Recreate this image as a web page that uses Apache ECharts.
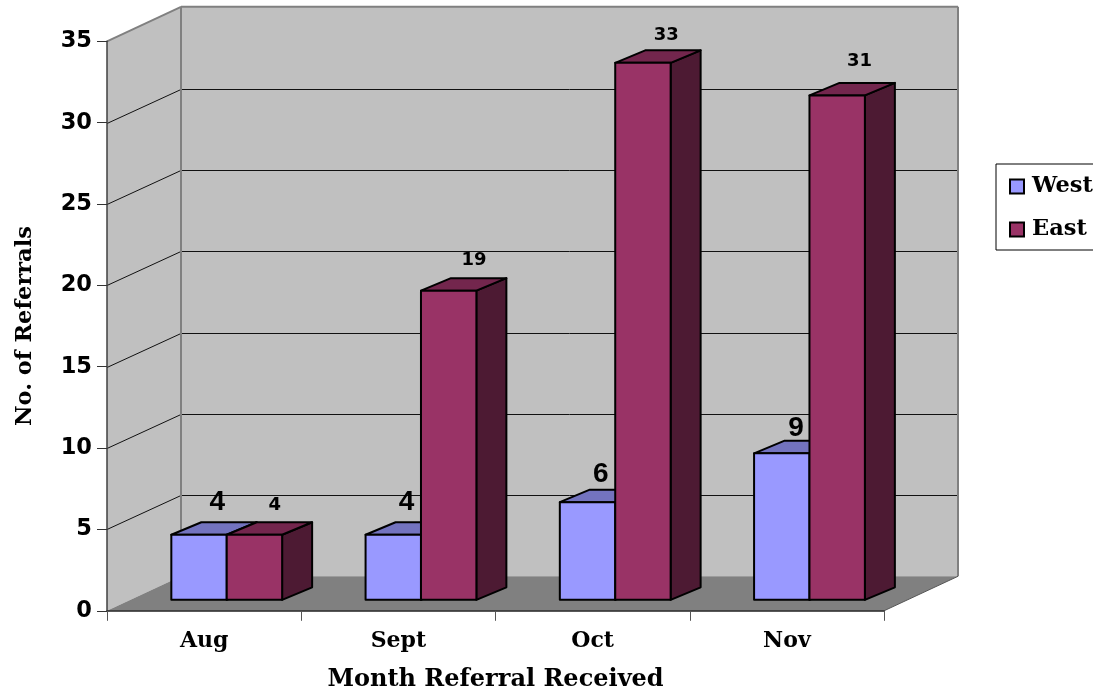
<!DOCTYPE html>
<html>
<head>
<meta charset="utf-8">
<style>html,body{margin:0;padding:0;background:#fff}#chart{width:1093px;height:693px}</style>
<script src="https://cdn.jsdelivr.net/npm/echarts@6/dist/echarts.min.js"></script>
</head>
<body>
<div id="chart"></div>
<script>
// Monthly referrals received by region
const months = ['Aug', 'Sept', 'Oct', 'Nov'];
const west = [4, 4, 6, 9];
const east = [4, 19, 33, 31];
const valueTicks = [5, 10, 15, 20, 25, 30, 35];

// Pixel offsets of the hand-placed value labels, relative to each bar's top-left corner
const westLabelOffset = [[46, -32], [41, -32], [41, -28], [42, -25]];
const eastLabelOffset = [[48, -29], [53, -30], [51, -28], [50, -34]];

// Oblique projection of the chart box
const BOX_DX = 74, BOX_DY = 34.5;      // depth of the walls and floor
const BAR_SHIFT_X = 22.6, BAR_SHIFT_Y = 11; // where the bar row stands on the floor
const BAR_W = 55.4, BAR_DX = 30, BAR_DY = 12.5; // bar face width and bar depth

function poly(points, fill, stroke, lineWidth) {
  return {
    type: 'polygon',
    shape: { points },
    style: { fill, stroke: stroke || 'none', lineWidth: lineWidth || 0, lineJoin: 'round' }
  };
}

function line(a, b, stroke, lineWidth) {
  return {
    type: 'line',
    shape: { x1: a[0], y1: a[1], x2: b[0], y2: b[1] },
    style: { stroke, lineWidth }
  };
}

// Walls, floor and gridlines of the box
function renderBox(params, api) {
  const band = api.size([1, 0])[0];
  const origin = api.coord([0, 0]);
  const left = origin[0] - band / 2;
  const right = left + band * months.length;
  const bottom = origin[1];
  const top = api.coord([0, 35])[1];
  const children = [
    poly([[left, bottom], [left, top], [left + BOX_DX, top - BOX_DY], [left + BOX_DX, bottom - BOX_DY]], '#C0C0C0'),
    poly([[left + BOX_DX, bottom - BOX_DY], [left + BOX_DX, top - BOX_DY], [right + BOX_DX, top - BOX_DY], [right + BOX_DX, bottom - BOX_DY]], '#C0C0C0'),
    poly([[left, bottom], [left + BOX_DX, bottom - BOX_DY], [right + BOX_DX, bottom - BOX_DY], [right, bottom]], '#808080')
  ];
  valueTicks.slice(0, -1).forEach(function (v) {
    const y = Math.round(api.coord([0, v])[1]) + 0.5;
    const by = Math.round(y - BOX_DY) + 0.5;
    children.push(line([left, y], [left + BOX_DX, by], '#111', 1));
    children.push(line([left + BOX_DX, by], [right + BOX_DX, by], '#111', 1));
  });
  children.push(line([left, top], [left + BOX_DX, top - BOX_DY], '#808080', 2));
  children.push(line([left + BOX_DX, top - BOX_DY], [right + BOX_DX, top - BOX_DY], '#808080', 2));
  children.push(line([left + BOX_DX, top - BOX_DY], [left + BOX_DX, bottom - BOX_DY], '#808080', 2));
  children.push(line([right + BOX_DX, top - BOX_DY], [right + BOX_DX, bottom - BOX_DY], '#808080', 2));
  children.push(line([right, bottom], [right + BOX_DX, bottom - BOX_DY], '#555', 1));
  return { type: 'group', children };
}

// One extruded bar: front face, top and right side, plus its value label
function barRenderer(slot, colors, labelFont, labelOffset) {
  return function (params, api) {
    const idx = api.value(0);
    const value = api.value(1);
    const c = api.coord([idx, value]);
    const base = api.coord([idx, 0]);
    const x0 = c[0] + BAR_SHIFT_X + (slot - 1) * BAR_W;
    const x1 = x0 + BAR_W;
    const yTop = c[1] - BAR_SHIFT_Y;
    const yBase = base[1] - BAR_SHIFT_Y;
    const stroke = '#000';
    return {
      type: 'group',
      children: [
        poly([[x1, yTop], [x1 + BAR_DX, yTop - BAR_DY], [x1 + BAR_DX, yBase - BAR_DY], [x1, yBase]], colors.side, stroke, 2),
        poly([[x0, yTop], [x0 + BAR_DX, yTop - BAR_DY], [x1 + BAR_DX, yTop - BAR_DY], [x1, yTop]], colors.top, stroke, 2),
        poly([[x0, yTop], [x1, yTop], [x1, yBase], [x0, yBase]], colors.face, stroke, 2),
        {
          type: 'text',
          z2: 10,
          style: {
            text: String(value),
            x: x0 + labelOffset[idx][0],
            y: yTop + labelOffset[idx][1],
            align: 'center',
            verticalAlign: 'middle',
            fontFamily: labelFont.family,
            fontSize: labelFont.size,
            fontWeight: 'bold',
            fill: '#000'
          }
        }
      ]
    };
  };
}

const serifBold = 'DejaVu Serif';
const sansBold = 'DejaVu Sans';
const chart = echarts.init(document.getElementById('chart'), null, { renderer: 'canvas' });

chart.setOption({
  animation: false,
  backgroundColor: '#fff',
  grid: { left: 107, top: 41.3, width: 777, height: 569.5, containLabel: false, outerBoundsMode: 'none' },
  legend: {
    data: ['West', 'East'],
    orient: 'vertical',
    left: 996,
    top: 164,
    padding: [11, 40, 9, 13],
    itemGap: 20,
    itemWidth: 14,
    itemHeight: 14,
    icon: 'rect',
    backgroundColor: '#fff',
    borderColor: '#000',
    borderWidth: 1,
    borderRadius: 0,
    textStyle: { fontFamily: serifBold, fontWeight: 'bold', fontSize: 22.5, color: '#000', padding: [0, 0, 0, 3] }
  },
  xAxis: {
    type: 'category',
    data: months,
    z: 5,
    name: 'Month Referral Received',
    nameLocation: 'middle',
    nameGap: 57,
    nameTextStyle: { fontFamily: serifBold, fontWeight: 'bold', fontSize: 24, color: '#000' },
    axisLine: { lineStyle: { color: '#222', width: 1.5 } },
    axisTick: { show: true, alignWithLabel: false, length: 10, lineStyle: { color: '#555', width: 1 } },
    axisLabel: { margin: 19, fontFamily: serifBold, fontWeight: 'bold', fontSize: 22, color: '#000' },
    splitLine: { show: false }
  },
  yAxis: {
    type: 'value',
    min: 0,
    max: 35,
    interval: 5,
    z: 5,
    name: 'No. of Referrals',
    nameLocation: 'middle',
    nameGap: 70,
    nameTextStyle: { fontFamily: serifBold, fontWeight: 'bold', fontSize: 22.5, color: '#000' },
    axisLine: { show: true, lineStyle: { color: '#404040', width: 1.5 } },
    axisTick: { show: true, length: 10, lineStyle: { color: '#333', width: 1 } },
    axisLabel: { margin: 15, fontFamily: sansBold, fontWeight: 'bold', fontSize: 22.5, color: '#000' },
    splitLine: { show: false }
  },
  series: [
    {
      type: 'custom',
      name: 'box',
      z: 1,
      silent: true,
      clip: false,
      renderItem: renderBox,
      data: [[0, 0]],
      encode: { x: 0, y: 1 }
    },
    {
      type: 'custom',
      name: 'West',
      z: 2,
      clip: false,
      itemStyle: { color: '#9999FF', borderColor: '#000', borderWidth: 2 },
      renderItem: barRenderer(0, { face: '#9999FF', top: '#7373BF', side: '#4D4D80' },
        { family: 'Liberation Sans', size: 28 }, westLabelOffset),
      data: months.map(function (m, i) { return [i, west[i]]; }),
      encode: { x: 0, y: 1 }
    },
    {
      type: 'custom',
      name: 'East',
      z: 3,
      clip: false,
      itemStyle: { color: '#993366', borderColor: '#000', borderWidth: 2 },
      renderItem: barRenderer(1, { face: '#993366', top: '#73264D', side: '#4D1A33' },
        { family: 'DejaVu Sans', size: 18 }, eastLabelOffset),
      data: months.map(function (m, i) { return [i, east[i]]; }),
      encode: { x: 0, y: 1 }
    }
  ]
});
</script>
</body>
</html>
